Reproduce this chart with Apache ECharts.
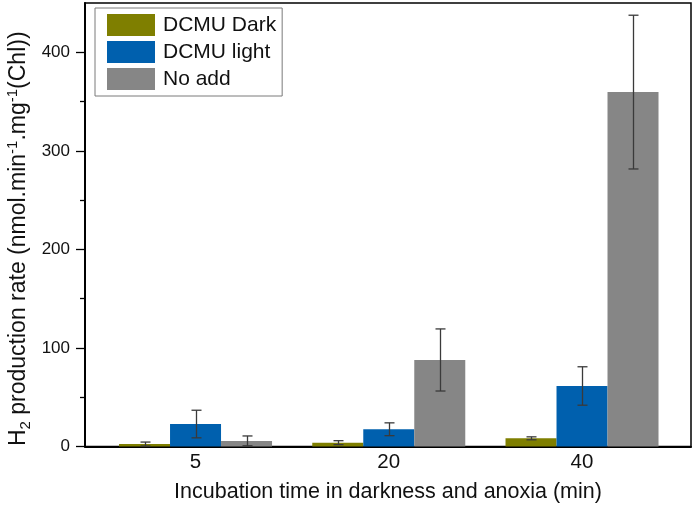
<!DOCTYPE html>
<html><head><meta charset="utf-8">
<script src="https://cdn.jsdelivr.net/npm/echarts@6/dist/echarts.min.js"></script>
<style>html,body{margin:0;padding:0;background:#fff}#c{width:693px;height:506px}</style>
</head><body><div id="c"></div>
<script>
const categories = ['5', '20', '40'];
const seriesNames = ['DCMU Dark', 'DCMU light', 'No add'];
const dcmuDark = [2.5, 3.9, 8.3];
const dcmuDarkErr = [2, 2, 1.5];
const dcmuLight = [22.8, 17.5, 61.4];
const dcmuLightErr = [14, 6.5, 19.5];
const noAdd = [5.7, 87.8, 359.6];
const noAddErr = [5, 31.5, 78];
const yMajorTicks = [0, 100, 200, 300, 400];
const yMinorTicks = [50, 150, 250, 350];

const FONT = 'Liberation Sans, Arial, sans-serif';
const colors = ['#7f7f00', '#0060ae', '#868686'];
const values = [dcmuDark, dcmuLight, noAdd];
const errs = [dcmuDarkErr, dcmuLightErr, noAddErr];
const BAR_W = 51;
const offsets = [-BAR_W, 0, BAR_W];

const chart = echarts.init(document.getElementById('c'), null, {renderer: 'canvas'});

const series = [];
values.forEach((vals, i) => {
  series.push({
    name: seriesNames[i], type: 'bar', barWidth: BAR_W, barGap: '0%',
    itemStyle: {color: colors[i]},
    data: categories.map((c, j) => [j, vals[j]]),
    z: 2
  });
});
values.forEach((vals, i) => {
  const off = offsets[i];
  series.push({
    type: 'custom', z: 5, silent: true,
    data: categories.map((c, j) => [j, vals[j], errs[i][j]]),
    renderItem: function (params, api) {
      const x = api.value(0), y = api.value(1), e = api.value(2);
      const top = api.coord([x, y + e]);
      const bot = api.coord([x, Math.max(0, y - e)]);
      const cx = Math.round(top[0] + off) + 0.5;
      const st = {stroke: '#3a3a3a', lineWidth: 1.3};
      return {type: 'group', children: [
        {type: 'line', shape: {x1: cx, y1: top[1], x2: cx, y2: bot[1]}, style: st},
        {type: 'line', shape: {x1: cx - 5, y1: top[1], x2: cx + 5, y2: top[1]}, style: st},
        {type: 'line', shape: {x1: cx - 5, y1: bot[1], x2: cx + 5, y2: bot[1]}, style: st}
      ]};
    }
  });
});

chart.setOption({
  animation: false,
  backgroundColor: '#fff',
  grid: {left: 85, right: 2, top: 3, bottom: 59.5, outerBoundsMode: 'none', containLabel: false,
    show: true, borderColor: '#000', borderWidth: 1.5},
  legend: {
    data: seriesNames, orient: 'vertical', left: 95, top: 8,
    padding: [6, 6, 6, 12], itemWidth: 48, itemHeight: 22, itemGap: 5, icon: 'rect',
    borderColor: '#7a7a7a', borderWidth: 1, backgroundColor: '#fff',
    textStyle: {fontFamily: FONT, fontSize: 21, color: '#111', padding: [0, 0, 0, 3]}
  },
  xAxis: {
    type: 'value', min: -0.572, max: 2.564,
    axisLine: {show: true, onZero: false, lineStyle: {color: '#000', width: 2}},
    axisTick: {show: false},
    splitLine: {show: false},
    axisLabel: {customValues: [0, 1, 2], formatter: v => categories[Math.round(v)] || '',
      fontFamily: FONT, fontSize: 20.5, color: '#111', margin: 5},
    name: 'Incubation time in darkness and anoxia (min)', nameLocation: 'middle', nameGap: 35,
    nameMoveOverlap: false,
    nameTextStyle: {fontFamily: FONT, fontSize: 21.5, color: '#111'}
  },
  yAxis: [{
    type: 'value', min: 0, max: 450,
    axisLine: {show: true, onZero: false, lineStyle: {color: '#000', width: 2}},
    axisTick: {show: true, customValues: yMajorTicks, length: 9, lineStyle: {color: '#000', width: 1.3}},
    axisLabel: {customValues: yMajorTicks, fontFamily: FONT, fontSize: 17, color: '#111', margin: 15},
    splitLine: {show: false},
    name: 'H{sub|2} production rate (nmol.min{sup|-1}.mg{sup|-1}(Chl))',
    nameLocation: 'middle', nameGap: 52, nameMoveOverlap: false,
    nameTextStyle: {fontFamily: FONT, fontSize: 23, color: '#111', lineHeight: 28, padding: [0, 28, 0, 0],
      rich: {
        sub: {fontFamily: FONT, fontSize: 15, color: '#111', verticalAlign: 'bottom', lineHeight: 18},
        sup: {fontFamily: FONT, fontSize: 15, color: '#111', verticalAlign: 'top', lineHeight: 18}
      }}
  }, {
    type: 'value', min: 0, max: 450, position: 'left',
    axisLine: {show: false, onZero: false},
    axisTick: {show: true, customValues: yMinorTicks, length: 5, lineStyle: {color: '#000', width: 1.3}},
    axisLabel: {show: false},
    splitLine: {show: false}
  }],
  series: series
});
</script></body></html>
